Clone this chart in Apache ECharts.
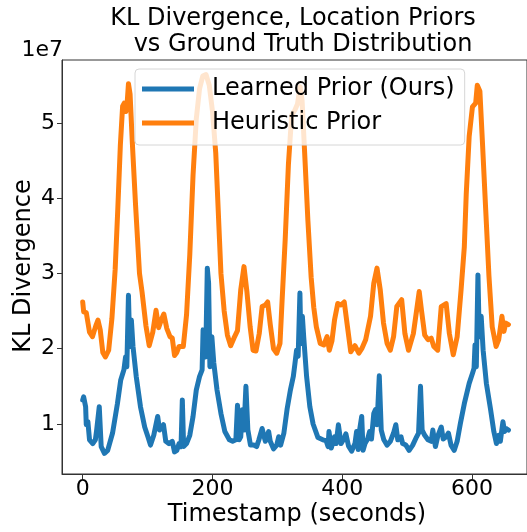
<!DOCTYPE html>
<html>
<head>
<meta charset="utf-8">
<script src="https://cdn.jsdelivr.net/npm/echarts@6/dist/echarts.min.js"></script>
<style>
html,body{margin:0;padding:0;background:#fff;}
#chart{width:527px;height:532px;}
</style>
</head>
<body>
<div id="chart"></div>
<script>
// Values in units of 1e7 (axis offset label "1e7")
const xTicks = [0, 200, 400, 600];
const yTicks = [1, 2, 3, 4, 5];

const heuristicT = [0, 1.5, 5.5, 10.5, 15, 20, 23.5, 27, 31, 35, 40, 45, 50, 54, 58, 61.5, 64, 66.5, 68, 70.5, 73, 76.5, 81.5, 87.5, 91.5, 97.5, 102.5, 108, 113, 117, 121, 125, 129.5, 134.5, 138, 141.5, 145, 148.5, 155, 160, 165, 170, 175, 180, 185, 190, 195, 200, 205, 209, 213, 218, 223, 228, 233, 238.5, 243.5, 248.5, 253, 258, 262.5, 267, 272, 276.5, 281.5, 285, 289, 294, 299, 304, 307, 312, 317, 322, 327, 331, 335, 338, 342, 347, 352, 356, 360, 366, 371.5, 376.5, 380, 384, 388, 393, 398, 403, 408, 413, 419.5, 425.5, 430, 436, 443.5, 448.5, 453.5, 458.5, 463.5, 469, 474, 479, 484, 491.5, 496.5, 502, 509.5, 514.5, 518.5, 522, 527, 532, 537, 541, 547, 552.5, 560, 565, 571, 577, 583, 588, 591, 595.5, 600.5, 605.5, 608, 612, 616, 621, 626, 631, 637, 641, 646, 649, 652, 656];
const heuristicV = [2.62, 2.49, 2.48, 2.22, 2.16, 2.30, 2.38, 2.25, 1.95, 1.89, 1.98, 2.40, 3.05, 3.84, 4.70, 5.22, 5.26, 5.15, 5.20, 5.52, 5.38, 4.73, 3.90, 3.00, 2.75, 2.30, 2.04, 2.22, 2.51, 2.28, 2.38, 2.46, 2.27, 2.16, 2.14, 1.91, 1.95, 2.03, 2.03, 2.45, 3.25, 4.30, 5.05, 5.45, 5.62, 5.64, 5.50, 5.15, 4.60, 3.80, 3.00, 2.50, 2.18, 2.04, 2.14, 2.24, 2.78, 3.09, 2.76, 2.29, 1.98, 1.97, 2.20, 2.56, 2.58, 2.62, 2.32, 2.00, 1.94, 2.07, 2.60, 3.45, 4.45, 5.10, 5.17, 5.25, 5.48, 5.30, 4.60, 3.70, 2.95, 2.55, 2.29, 2.07, 2.05, 2.16, 1.98, 2.10, 2.38, 2.60, 2.58, 2.62, 2.29, 1.96, 2.04, 1.94, 2.00, 2.12, 2.43, 2.87, 3.07, 2.78, 2.34, 2.07, 1.98, 2.16, 2.56, 2.65, 2.20, 1.98, 2.20, 2.51, 2.76, 2.51, 2.18, 2.12, 2.14, 2.03, 1.98, 2.56, 2.60, 2.20, 1.92, 2.16, 2.78, 3.35, 4.06, 4.82, 5.21, 5.26, 5.50, 5.42, 4.73, 3.84, 2.96, 2.29, 2.03, 2.12, 2.43, 2.23, 2.34, 2.32];

const learnedT = [0, 1.5, 4.5, 5.5, 8, 10.5, 15.5, 19.5, 21.5, 25.5, 28.5, 33.5, 38.5, 46, 53.5, 58.5, 63.5, 66, 68, 70.5, 72.5, 75, 77.5, 82.5, 89, 95.5, 100.5, 104.5, 109.5, 115.5, 118.5, 124.5, 128, 133, 138, 141.5, 145, 148.5, 151.5, 153.5, 155.5, 160, 165, 170, 175, 180, 184, 185.5, 188, 189.5, 192, 194, 196, 199, 202, 207, 213, 219, 226, 231, 236, 238.5, 241, 243.5, 246, 248.5, 251.5, 254.5, 258.5, 263.5, 268, 271.5, 276.5, 279, 281.5, 286.5, 289, 294, 299, 302, 305, 310, 315, 320, 324.5, 327, 329.5, 332, 334.7, 336.2, 338.5, 340.5, 345, 350, 355, 362.5, 370, 375, 378, 379.5, 383, 388, 390.5, 394, 398, 403, 405.5, 409.5, 414.5, 419.5, 422, 424.5, 427, 429.9, 432, 435, 439, 442, 445, 448.5, 451, 453.5, 457, 460, 464, 469, 474, 479, 482.5, 485.5, 490.5, 493, 498, 503, 508.5, 514.5, 517.5, 520.5, 523, 527, 532, 537, 539.5, 543.5, 547.5, 552.5, 555.5, 560, 563.5, 567.5, 572.5, 577, 582, 588, 595.5, 600.5, 603, 604.5, 606.5, 609, 611, 614, 617, 622, 628.5, 633.5, 637.5, 641, 643.5, 647.5, 650, 652.5, 656];
const learnedV = [1.32, 1.36, 1.23, 0.99, 1.03, 0.79, 0.74, 0.79, 0.92, 1.23, 0.70, 0.61, 0.65, 0.88, 1.27, 1.58, 1.72, 1.89, 1.76, 2.71, 2.03, 2.38, 2.03, 1.63, 1.23, 0.96, 0.83, 0.72, 0.85, 1.10, 0.92, 0.99, 0.77, 0.74, 0.77, 0.63, 0.65, 0.74, 0.70, 1.32, 0.70, 0.74, 0.85, 1.10, 1.45, 1.63, 1.72, 2.25, 2.20, 1.89, 3.07, 2.87, 1.76, 2.16, 1.81, 1.45, 1.14, 0.90, 0.79, 0.77, 0.79, 1.25, 0.79, 0.83, 1.19, 0.92, 1.50, 0.92, 0.72, 0.72, 0.70, 0.79, 0.94, 0.85, 0.77, 0.90, 0.77, 0.67, 0.72, 0.83, 0.72, 0.88, 1.20, 1.45, 1.63, 1.80, 1.98, 1.90, 2.74, 2.07, 2.43, 2.16, 1.63, 1.23, 1.00, 0.82, 0.79, 0.78, 0.70, 0.90, 0.68, 0.83, 0.74, 0.99, 0.74, 0.81, 0.87, 0.71, 0.64, 0.74, 0.90, 0.66, 0.94, 1.10, 0.65, 0.74, 0.80, 0.90, 0.80, 1.14, 1.19, 0.99, 1.64, 0.92, 0.79, 0.72, 0.77, 0.88, 0.99, 0.79, 0.83, 0.74, 0.72, 0.65, 0.72, 0.83, 0.88, 1.50, 0.92, 0.85, 0.79, 0.77, 0.92, 0.70, 0.85, 0.96, 0.80, 0.83, 0.88, 0.72, 0.65, 0.77, 1.01, 1.27, 1.54, 1.67, 1.74, 2.05, 1.76, 2.98, 2.16, 2.43, 1.98, 1.54, 1.19, 0.90, 0.74, 0.85, 0.77, 1.03, 0.90, 0.94, 0.92];

const seriesNames = ['Learned Prior (Ours)', 'Heuristic Prior'];
const colors = ['#1f77b4', '#ff7f0e'];

const FONT = '"DejaVu Sans", sans-serif';
const axisColor = '#333';

function pairs(t, v) { return t.map((x, i) => [x, v[i]]); }

const chart = echarts.init(document.getElementById('chart'), null, {renderer: 'canvas'});
chart.setOption({
  animation: false,
  backgroundColor: '#fff',
  grid: {left: 62, top: 60, right: -7, bottom: 58, show: true, borderColor: axisColor, borderWidth: 1, containLabel: false},
  xAxis: {
    type: 'value', min: -31.9, max: 684.6,
    axisLine: {show: true, onZero: false, lineStyle: {color: axisColor, width: 1}},
    axisTick: {show: true, length: 5, customValues: xTicks, lineStyle: {color: axisColor}},
    axisLabel: {show: true, customValues: xTicks, margin: 4, fontSize: 22, fontFamily: FONT, color: '#000'},
    splitLine: {show: false}
  },
  yAxis: {
    type: 'value', min: 0.336, max: 5.834,
    axisLine: {show: true, onZero: false, lineStyle: {color: axisColor, width: 1}},
    axisTick: {show: true, length: 5, customValues: yTicks, lineStyle: {color: axisColor}},
    axisLabel: {show: true, customValues: yTicks, margin: 7, fontSize: 22, fontFamily: FONT, color: '#000'},
    splitLine: {show: false}
  },
  legend: {
    show: true, z: 10,
    data: seriesNames,
    orient: 'vertical', left: 135, top: 69,
    icon: 'rect', itemWidth: 52, itemHeight: 5, itemGap: 6,
    padding: [6, 10, 8, 7],
    backgroundColor: 'rgba(255,255,255,0.8)', borderColor: '#d6d6d6', borderWidth: 1, borderRadius: 4,
    textStyle: {fontSize: 24, fontFamily: FONT, color: '#000', lineHeight: 28, padding: [0, 0, 0, 13]}
  },
  series: [
    {name: seriesNames[0], type: 'line', data: pairs(learnedT, learnedV), showSymbol: false, symbol: 'none',
     color: colors[0], lineStyle: {width: 5, color: colors[0], join: 'round', cap: 'round'}, z: 2},
    {name: seriesNames[1], type: 'line', data: pairs(heuristicT, heuristicV), showSymbol: false, symbol: 'none',
     color: colors[1], lineStyle: {width: 5, color: colors[1], join: 'round', cap: 'round'}, z: 3}
  ],
  graphic: [
    {type: 'text', x: 293, y: 19, style: {text: 'KL Divergence, Location Priors', font: '24px ' + FONT, fill: '#000', textAlign: 'center', textVerticalAlign: 'middle'}},
    {type: 'text', x: 303, y: 45, style: {text: 'vs Ground Truth Distribution', font: '24px ' + FONT, fill: '#000', textAlign: 'center', textVerticalAlign: 'middle'}},
    {type: 'text', x: 63, y: 50, style: {text: '1e7', font: '22px ' + FONT, fill: '#000', textAlign: 'right', textVerticalAlign: 'middle'}},
    {type: 'text', x: 24, y: 266, rotation: Math.PI / 2, style: {text: 'KL Divergence', font: '24px ' + FONT, fill: '#000', textAlign: 'center', textVerticalAlign: 'middle'}},
    {type: 'text', x: 297, y: 515, style: {text: 'Timestamp (seconds)', font: '24px ' + FONT, fill: '#000', textAlign: 'center', textVerticalAlign: 'middle'}}
  ]
});
</script>
</body>
</html>
